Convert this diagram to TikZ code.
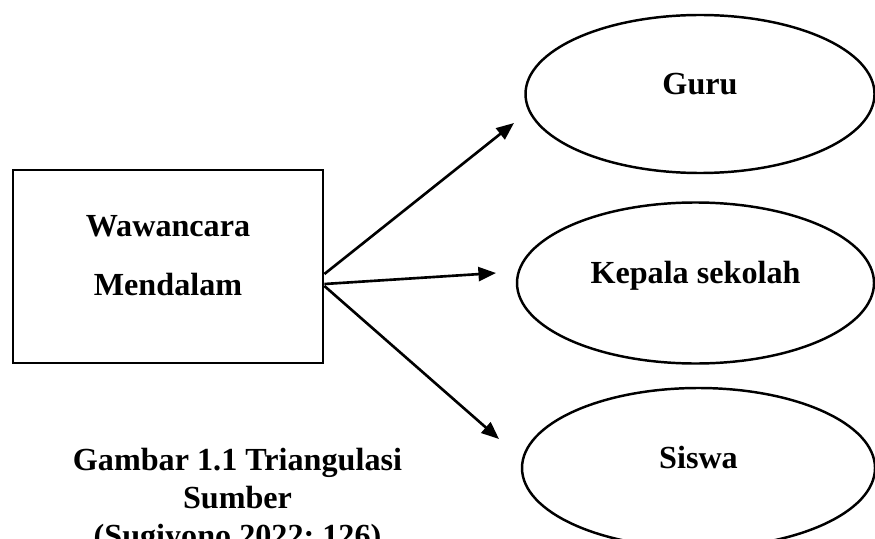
\documentclass[tikz,border=0pt]{standalone}
\usepackage{fontspec}
\setmainfont{Liberation Serif}
\usetikzlibrary{arrows.meta,shapes.geometric}

\tikzset{
  every node/.style={font=\bfseries\fontsize{18.3pt}{21.5pt}\selectfont},
  sumber/.style={draw, ellipse, line width=1.4pt, text height=0.5cm, text depth=0.47cm},
  wawancara/.style={draw, rectangle, line width=1.6pt, minimum width=6.2cm, minimum height=3.86cm},
  panah/.style={-{Triangle[length=10pt,width=8pt]}, line width=1.5pt}
}

\begin{document}
\begin{tikzpicture}
        \useasboundingbox (0,0) rectangle (17.5,10.76);
        \node[wawancara] (wawancara) at (3.36,5.43) {};
        \node[anchor=north, align=center, inner sep=0pt] (wawancaraTeks) at ([yshift=1.03cm]wawancara.center) {Wawancara\\[0.43cm]Mendalam};

        \node[sumber, minimum width=6.98cm, minimum height=3.16cm] (guru) at (14.0,8.88) {Guru};
        \node[sumber, minimum width=7.14cm, minimum height=3.22cm] (kepala) at (13.91,5.10) {Kepala sekolah};
        \node[sumber, minimum width=7.06cm, minimum height=3.2cm] (siswa) at (13.97,1.40) {Siswa};

        \coordinate (ujungGuru) at (10.28,8.30);
        \coordinate (ujungKepala) at (9.92,5.30);
        \coordinate (ujungSiswa) at (9.98,1.98);
        \draw[panah] ([yshift=-0.15cm]wawancara.east) -- (ujungGuru);
        \draw[panah] ([yshift=-0.35cm]wawancara.east) -- (ujungKepala);
        \draw[panah] ([yshift=-0.39cm]wawancara.east) -- (ujungSiswa);

        \node[anchor=north, align=center, inner sep=0pt] (keterangan) at (4.75,1.80) {Gambar 1.1 Triangulasi\\Sumber\\(Sugiyono 2022; 126)};
\end{tikzpicture}
\end{document}
